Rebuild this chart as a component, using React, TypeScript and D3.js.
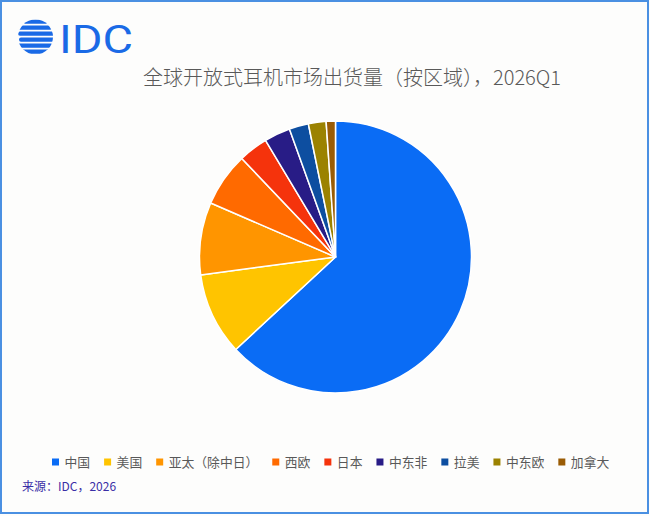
import React, { useEffect, useRef } from "react";
import * as d3 from "d3";

// Share of shipments by region, 2026Q1 (%)
const regions = ["中国", "美国", "亚太（除中日）", "西欧", "日本", "中东非", "拉美", "中东欧", "加拿大"];
const shares = [63.1, 9.8, 8.6, 6.4, 3.5, 3.1, 2.3, 2.1, 1.1];
const colors = ["#0a6cf5", "#ffc400", "#ff9500", "#ff6a00", "#f5330c", "#281c86", "#0d4ea0", "#9b8200", "#9a5c05"];

const title = "全球开放式耳机市场出货量（按区域），2026Q1";
const source = "来源：IDC，2026";

interface Slice {
  region: string;
  share: number;
  color: string;
}

const slices: Slice[] = regions.map((r, i) => ({ region: r, share: shares[i], color: colors[i] }));

export default function App() {
  const svgRef = useRef<SVGSVGElement>(null);

  useEffect(() => {
    document.body.style.margin = "0";
    if (!svgRef.current) return;
    const width = 650;
    const height = 516;
    const svg = d3.select(svgRef.current);
    svg.selectAll("*").remove();
    svg.attr("width", width).attr("height", height);

    // background + frame
    svg.append("rect")
      .attr("width", width)
      .attr("height", height)
      .attr("fill", "#fdfdfc");
    svg.append("rect")
      .attr("x", 1)
      .attr("y", 1)
      .attr("width", width - 3)
      .attr("height", height - 4)
      .attr("fill", "none")
      .attr("stroke", "#4a90e2")
      .attr("stroke-width", 2);

    // logo: striped globe + IDC
    const logo = svg.append("g");
    const defs = svg.append("defs");
    defs.append("clipPath").attr("id", "globe")
      .append("circle").attr("cx", 35.5).attr("cy", 37).attr("r", 17.5);
    const stripes = logo.append("g").attr("clip-path", "url(#globe)");
    const stripeY = d3.range(6).map(i => 19.5 + i * 6);
    const stripeOffset = [3, -2, 1, 2, -1, 3];
    stripeY.forEach((y, i) => {
      stripes.append("rect")
        .attr("x", 17 + stripeOffset[i])
        .attr("y", y)
        .attr("width", 37)
        .attr("height", 4.2)
        .attr("rx", 2)
        .attr("fill", "#1a6ae6");
    });
    logo.append("text")
      .attr("x", 59)
      .attr("y", 53)
      .attr("textLength", 74)
      .attr("lengthAdjust", "spacingAndGlyphs")
      .style("font-family", "Roboto, 'Noto Sans', sans-serif")
      .style("font-weight", 400)
      .style("font-size", "39px")
      .style("fill", "#1a6ae6")
      .text("IDC");

    // title
    svg.append("text")
      .attr("x", 352)
      .attr("y", 85)
      .attr("text-anchor", "middle")
      .style("font-family", "'Noto Sans CJK SC', sans-serif")
      .style("font-weight", 300)
      .style("font-size", "20px")
      .style("fill", "#595959")
      .text(title);

    // pie
    const cx = 335.5;
    const cy = 257;
    const radius = 136;
    const pie = d3.pie<Slice>().value(d => d.share).sort(null);
    const arc = d3.arc<d3.PieArcDatum<Slice>>().innerRadius(0).outerRadius(radius);
    const g = svg.append("g").attr("transform", `translate(${cx},${cy})`);
    g.selectAll("path")
      .data(pie(slices))
      .join("path")
      .attr("d", arc)
      .attr("fill", d => d.data.color)
      .attr("stroke", "#ffffff")
      .attr("stroke-width", 1.5)
      .attr("stroke-linejoin", "round");

    // legend
    const legend = svg.append("g").attr("transform", "translate(52, 462)");
    let lx = 0;
    slices.forEach(s => {
      const item = legend.append("g").attr("transform", `translate(${lx},0)`);
      item.append("rect")
        .attr("x", 0)
        .attr("y", -3.5)
        .attr("width", 7)
        .attr("height", 7)
        .attr("fill", s.color);
      const label = item.append("text")
        .attr("x", 12.5)
        .attr("y", 4.5)
        .style("font-family", "'Noto Sans CJK SC', sans-serif")
        .style("font-size", "12.8px")
        .style("fill", "#595959")
        .text(s.region);
      const w = (label.node() as SVGTextElement).getComputedTextLength();
      lx += w + 26.5;
    });

    // source note
    svg.append("text")
      .attr("x", 22)
      .attr("y", 491)
      .style("font-family", "'Noto Sans CJK SC', sans-serif")
      .style("font-size", "12px")
      .style("fill", "#3a2ea6")
      .text(source);
  }, []);

  return <svg ref={svgRef} style={{ display: "block" }} />;
}
